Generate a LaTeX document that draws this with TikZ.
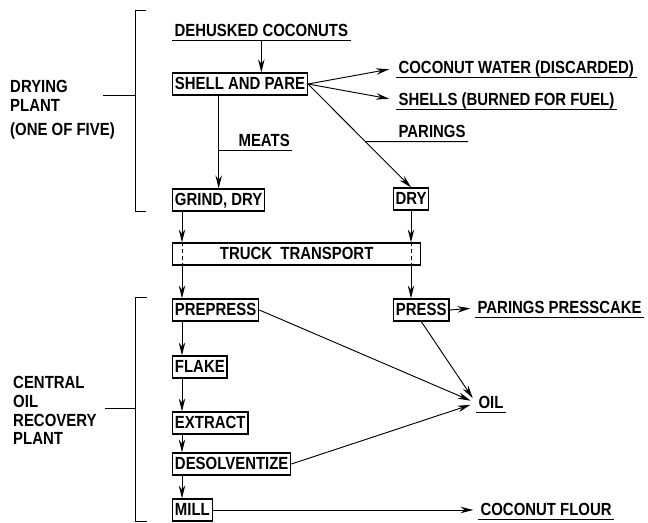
\documentclass[tikz,border=0pt]{standalone}
\usepackage{fontspec}
\setmainfont{Liberation Sans}[FakeStretch=0.85]
\usetikzlibrary{arrows.meta, positioning}

\begin{document}
\begin{tikzpicture}[x=0.03cm, y=-0.03cm,
  every node/.style={font=\fontsize{15}{16}\selectfont\bfseries},
  box/.style={draw, line width=1.1pt, inner xsep=2pt, minimum height=0.66cm, text height=11pt, text depth=1pt},
  outlbl/.style={anchor=west, inner xsep=2pt, inner ysep=2pt, text height=11pt, text depth=1pt},
  side/.style={anchor=north west, align=left, inner sep=0pt},
  flow/.style={line width=0.8pt, -{Stealth[length=11pt,width=5.5pt]}},
  uline/.style={line width=0.7pt}]
\useasboundingbox (0,0) rectangle (648,522);
\coordinate (colL) at (182,0);

% drying plant bracket
\node[side] (dryplant) at (10,80) {DRYING\\PLANT\\[5pt](ONE OF FIVE)};
\draw[line width=0.8pt] (146,10) -- (135,10) -- (135,211) -- (146,211);
\draw[line width=0.8pt] (103,95) -- (135,95);

% shelling
\node[outlbl] (dehusk) at (172,31) {DEHUSKED COCONUTS};
\draw[uline] (dehusk.south west) -- (dehusk.south east);
\node[box, anchor=west] (shell) at (172,84) {SHELL AND PARE};
\draw[flow] (dehusk.south) -- (dehusk.south |- shell.north);

\node[outlbl] (water) at (396,68) {COCONUT WATER (DISCARDED)};
\node[outlbl] (shells) at (396,100) {SHELLS (BURNED FOR FUEL)};
\node[outlbl] (parings) at (396,132) {PARINGS};
\draw[uline] (water.south west) -- (water.south east);
\draw[uline] (shells.south west) -- (shells.south east);
\draw[flow, shorten >=6pt] (shell.east) -- (water.west);
\draw[flow, shorten >=6pt] (shell.east) -- (shells.west);

\node[outlbl] (meats) at (236,141) {MEATS};
\node[box, anchor=west] (grind) at (172,200) {GRIND, DRY};
\node[box] (dry) at (411,199) {DRY};
\draw[flow] (grind.north |- shell.south) -- (grind.north);
\draw[uline] (meats.south west -| grind.north) -- (meats.south east);
\draw[flow] (shell.east) -- (dry.north);
\draw[uline] (intersection of shell.east--dry.north and parings.south west--parings.south east) -- (parings.south east);

% transport
\node[box, anchor=west, minimum width=7.44cm] (truck) at (172,254) {TRUCK\ \ TRANSPORT};
\node[box, anchor=west] (prepress) at (172,310) {PREPRESS};
\node[box, anchor=west] (press) at (393,310) {PRESS};
\draw[flow] (grind.south -| colL) -- (truck.north -| colL);
\draw[dashed, line width=0.5pt] (truck.north -| colL) -- (truck.south -| colL);
\draw[flow] (truck.south -| colL) -- (prepress.north -| colL);
\draw[flow] (dry.south) -- (truck.north -| dry.south);
\draw[dashed, line width=0.5pt] (truck.north -| dry.south) -- (truck.south -| dry.south);
\draw[flow] (truck.south -| dry.south) -- (press.north -| dry.south);

% central oil recovery plant bracket
\node[side] (central) at (13,376) {CENTRAL\\OIL\\RECOVERY\\PLANT};
\draw[line width=0.8pt] (147,297) -- (135,297) -- (135,521) -- (147,521);
\draw[line width=0.8pt] (105,408) -- (135,408);

\node[outlbl] (cake) at (475,308) {PARINGS PRESSCAKE};
\draw[uline] (cake.south west) -- (cake.south east);
\draw[flow, shorten >=4pt] (press.east) -- (cake.west);

\node[box, anchor=west] (flake) at (172,367) {FLAKE};
\node[box, anchor=west] (extract) at (172,423) {EXTRACT};
\node[box, anchor=west] (desolv) at (172,464) {DESOLVENTIZE};
\node[box, anchor=west] (mill) at (172,510) {MILL};
\draw[flow] (prepress.south -| colL) -- (flake.north -| colL);
\draw[flow] (flake.south -| colL) -- (extract.north -| colL);
\draw[flow] (extract.south -| colL) -- (desolv.north -| colL);
\draw[flow] (desolv.south -| colL) -- (mill.north -| colL);

\node[outlbl] (oil) at (476,403) {OIL};
\draw[uline] (oil.south west) -- (oil.south east);
\draw[flow, shorten >=5pt] (prepress.east) -- (oil.west);
\draw[flow, shorten >=5pt] (press.south) -- (oil.west);
\draw[flow, shorten >=5pt] (desolv.east) -- (oil.west);

\node[outlbl] (flour) at (478,510) {COCONUT FLOUR};
\draw[uline] (flour.south west) -- (flour.south east);
\draw[flow, shorten >=4pt] (mill.east) -- (flour.west);
\end{tikzpicture}
\end{document}
